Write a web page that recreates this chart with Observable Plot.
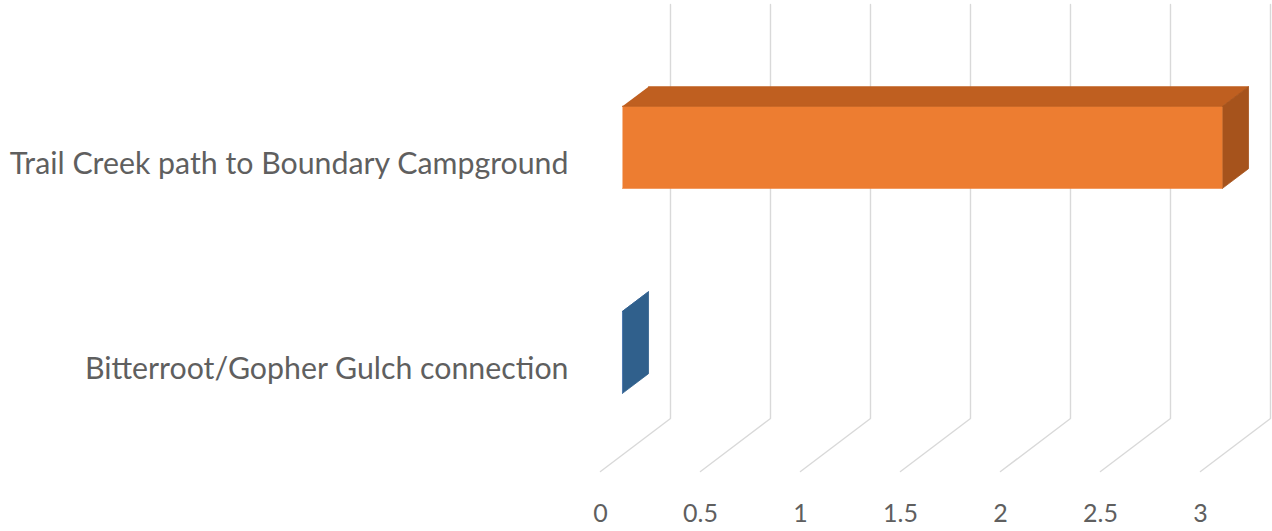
<!DOCTYPE html>
<html><head><meta charset="utf-8">
<script src="https://cdn.jsdelivr.net/npm/d3@7"></script>
<script src="https://cdn.jsdelivr.net/npm/@observablehq/plot@0.6"></script>
<style>body{margin:0;background:#fff;}</style>
</head><body><div id="chart"></div>
<script>
const categories = ["Bitterroot/Gopher Gulch connection", "Trail Creek path to Boundary Campground"];
const values = [0, 3];
const frontColors = ["#4472C4", "#ED7D31"];
const topColors = ["#3A64A8", "#BF5F20"];
const sideColors = ["#30608C", "#A6531C"];
const ticks = [0, 0.5, 1, 1.5, 2, 2.5, 3];
const tickLabels = ["0", "0.5", "1", "1.5", "2", "2.5", "3"];

// oblique 3D projection in data units
const DX = 0.35, DY = 53 / 205;
const d0 = 0.314, d1 = 0.686, pad = 0.3, wallTop = 2.02;
const P = (v, h, d) => [v + d * DX, h + d * DY];

const faces = [];
categories.forEach((c, i) => {
  const v = values[i], h0 = i + pad, h1 = i + 1 - pad;
  const polys = [
    {id: c + "-front", color: frontColors[i], pts: [P(0,h0,d0), P(v,h0,d0), P(v,h1,d0), P(0,h1,d0)]},
    {id: c + "-top", color: topColors[i], pts: [P(0,h1,d0), P(v,h1,d0), P(v,h1,d1), P(0,h1,d1)]},
    {id: c + "-side", color: sideColors[i], pts: [P(v,h0,d0), P(v,h0,d1), P(v,h1,d1), P(v,h1,d0)]}
  ];
  polys.forEach(p => p.pts.forEach(([x, y]) => faces.push({id: p.id, color: p.color, x, y})));
});

const grid = [];
ticks.forEach(t => {
  [P(t, 0, 0), P(t, 0, 1), P(t, wallTop, 1)].forEach(([x, y]) => grid.push({t, x, y}));
});

const catLabels = categories.map((c, i) => ({c, x: -0.16, y: i + 0.5}));
const tickText = ticks.map((t, i) => ({t, label: tickLabels[i], y: -0.205}));

const chart = Plot.plot({
  width: 1272, height: 531,
  marginTop: 0, marginRight: 0, marginBottom: 0, marginLeft: 0,
  x: {domain: [-3, 3.36], axis: null},
  y: {domain: [-(531 - 471) / 205, 471 / 205], axis: null},
  style: {background: "#fff"},
  marks: [
    Plot.line(grid, {x: "x", y: "y", z: "t", stroke: "#d9d9d9", strokeWidth: 1.4}),
    Plot.line(faces, {x: "x", y: "y", z: "id", fill: "color", stroke: "color", strokeWidth: 0.8, strokeLinejoin: "miter"}),
    Plot.text(catLabels, {x: "x", y: "y", text: "c", textAnchor: "end", fill: "#5f5f5f", fontSize: 30.3, fontFamily: "Lato"}),
    Plot.text(tickText, {x: "t", y: "y", text: "label", fill: "#5f5f5f", fontSize: 25, fontFamily: "Lato"})
  ]
});
document.getElementById("chart").appendChild(chart);
</script>
</body></html>
